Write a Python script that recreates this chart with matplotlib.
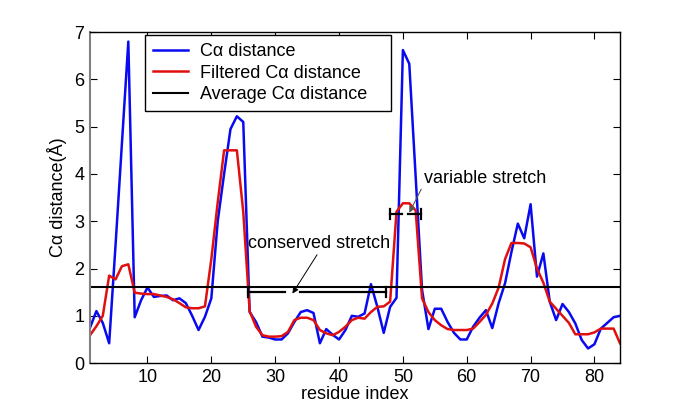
import matplotlib
matplotlib.use('Agg')
import matplotlib.pyplot as plt
import numpy as np

plt.rcParams['font.family'] = ['Liberation Sans', 'DejaVu Sans']

# residue index 1..84
residue = np.arange(1, 85)

ca_dist = [0.75, 1.1, 0.85, 0.42, 2.5, 4.65, 6.8, 0.97, 1.33, 1.6,
           1.4, 1.42, 1.43, 1.33, 1.37, 1.27, 1.0, 0.7, 0.98, 1.37,
           3.0, 4.0, 4.95, 5.22, 5.1, 1.08, 0.87, 0.56, 0.54, 0.5,
           0.5, 0.63, 0.87, 1.08, 1.12, 1.06, 0.42, 0.72, 0.6, 0.5,
           0.7, 1.0, 0.98, 1.05, 1.67, 1.19, 0.64, 1.19, 1.38, 6.62,
           6.33, 3.94, 1.55, 0.72, 1.15, 1.15, 0.87, 0.64, 0.5, 0.5,
           0.77, 0.96, 1.12, 0.74, 1.27, 1.69, 2.35, 2.95, 2.64, 3.36,
           1.83, 2.32, 1.3, 0.91, 1.25, 1.08, 0.84, 0.49, 0.31, 0.4,
           0.73, 0.85, 0.97, 1.0]

filtered = [0.59, 0.78, 1.0, 1.85, 1.77, 2.05, 2.09, 1.49, 1.47, 1.46,
            1.46, 1.43, 1.4, 1.35, 1.27, 1.18, 1.16, 1.16, 1.2, 2.2,
            3.4, 4.5, 4.5, 4.5, 3.2, 1.1, 0.77, 0.59, 0.56, 0.56,
            0.57, 0.66, 0.91, 0.96, 0.96, 0.91, 0.7, 0.63, 0.59, 0.66,
            0.77, 0.91, 0.96, 0.94, 1.08, 1.19, 1.2, 1.3, 3.2, 3.38,
            3.38, 3.23, 1.37, 1.08, 0.91, 0.8, 0.72, 0.7, 0.7, 0.7,
            0.73, 0.87, 1.02, 1.26, 1.6, 2.2, 2.54, 2.54, 2.53, 2.45,
            2.0, 1.7, 1.3, 1.15, 1.0, 0.85, 0.61, 0.61, 0.61, 0.65,
            0.73, 0.73, 0.73, 0.42]

avg_dist = 1.6

# stretch markers: (start, end, y, gap_start, gap_end)
conserved = (25.8, 47.4, 1.5, 31.5, 33.9)
variable = (47.95, 52.9, 3.15, 49.9, 50.8)

labels = ['C\u03b1 distance', 'Filtered C\u03b1 distance', 'Average C\u03b1 distance   ']

FS = 13


def draw_stretch(ax, s, cap=0.1):
    x0, x1, y, g0, g1 = s
    ax.plot([x0, g0], [y, y], color='k', lw=1.6)
    ax.plot([g1, x1], [y, y], color='k', lw=1.6)
    ax.plot([x0, x0], [y - cap, y + cap], color='k', lw=1.6)
    ax.plot([x1, x1], [y - cap, y + cap], color='k', lw=1.6)


fig = plt.figure(figsize=(6.85, 4.08), dpi=100)
ax = fig.add_axes([0.1314, 0.110, 0.7737, 0.8113])

ax.plot(residue, ca_dist, color='#0a0af0', lw=1.8, label=labels[0])
ax.plot(residue, filtered, color='#e01010', lw=1.8, label=labels[1])
ax.axhline(avg_dist, color='k', lw=1.5, label=labels[2])

draw_stretch(ax, conserved)
draw_stretch(ax, variable)

ax.annotate('conserved stretch', xy=(32.7, 1.47), xytext=(25.7, 2.53),
            fontsize=FS, va='center', ha='left',
            arrowprops=dict(arrowstyle='-|>', color='k', lw=0.7,
                            mutation_scale=9, shrinkA=0, shrinkB=0,
                            relpos=(0.5, 0.0)))
ax.annotate('variable stretch', xy=(51.0, 3.18), xytext=(53.3, 3.9),
            fontsize=FS, va='center', ha='left',
            arrowprops=dict(arrowstyle='-|>', color='#555555', lw=0.8,
                            mutation_scale=9, shrinkA=0, shrinkB=0,
                            relpos=(0.0, 0.2)))

ax.set_xlim(1, 84)
ax.set_ylim(0, 7)
ax.set_xticks(np.arange(10, 81, 10))
ax.set_yticks(np.arange(0, 8, 1))
ax.tick_params(direction='in', length=5, top=True, right=True, labelsize=FS, pad=4)
ax.spines['left'].set_color('#808080')
ax.spines['left'].set_linewidth(1.5)
for sp in ['top', 'right', 'bottom']:
    ax.spines[sp].set_linewidth(1.0)

ax.set_xlabel('residue index', fontsize=FS, labelpad=0)
ax.set_ylabel('C\u03b1 distance(\u00c5)', fontsize=FS, labelpad=5)

leg = ax.legend(loc='upper left', bbox_to_anchor=(0.104, 0.991), borderaxespad=0,
                fontsize=FS, frameon=True, fancybox=False, handlelength=1.95,
                handletextpad=0.65, labelspacing=0.25, borderpad=0.45)
leg.get_frame().set_edgecolor('k')
leg.get_frame().set_linewidth(1.0)
leg.get_frame().set_alpha(1.0)

fig.savefig('out.png', dpi=100)
